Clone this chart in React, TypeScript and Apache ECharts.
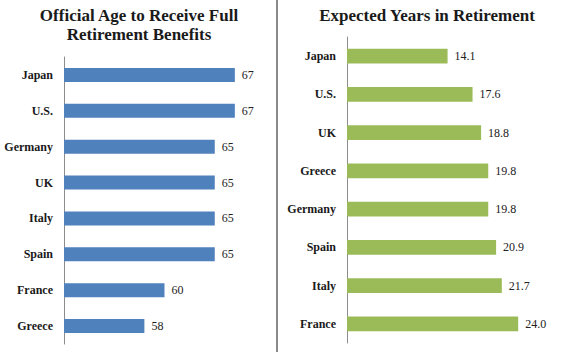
import React, { useEffect, useRef } from "react";
import * as echarts from "echarts";

const leftCategories = ["Japan", "U.S.", "Germany", "UK", "Italy", "Spain", "France", "Greece"];
const leftValues = [67, 67, 65, 65, 65, 65, 60, 58];
const rightCategories = ["Japan", "U.S.", "UK", "Greece", "Germany", "Spain", "Italy", "France"];
const rightValues = [14.1, 17.6, 18.8, 19.8, 19.8, 20.9, 21.7, 24.0];
const leftTitle = "Official Age to Receive Full\nRetirement Benefits";
const rightTitle = "Expected Years in Retirement";

const FONT = "Liberation Serif";

export default function App() {
  const ref = useRef<HTMLDivElement>(null);
  useEffect(() => {
    if (!ref.current) return;
    const chart = echarts.init(ref.current, null, { renderer: "svg" });
    const catLabel = {
      fontFamily: FONT,
      fontWeight: "bold" as const,
      fontSize: 12,
      color: "#1a1a1a",
      margin: 11,
    };
    chart.setOption({
      animation: false,
      backgroundColor: "#ffffff",
      title: [
        {
          text: leftTitle,
          left: 134,
          top: 1,
          textAlign: "center",
          textStyle: { fontFamily: FONT, fontWeight: "bold", fontSize: 17, lineHeight: 19, color: "#1a1a1a" },
        },
        {
          text: rightTitle,
          left: 422,
          top: 2,
          textAlign: "center",
          textStyle: { fontFamily: FONT, fontWeight: "bold", fontSize: 17, color: "#1a1a1a" },
        },
      ],
      grid: [
        { left: 64, right: 305, top: 57, bottom: 8 },
        { left: 347, right: 9, top: 37, bottom: 9 },
      ],
      xAxis: [
        { type: "value", gridIndex: 0, min: 50, max: 70, show: false },
        { type: "value", gridIndex: 1, min: 0, max: 30, show: false },
      ],
      yAxis: [
        {
          type: "category",
          gridIndex: 0,
          data: leftCategories,
          inverse: true,
          axisLine: { show: true, lineStyle: { color: "#8c8c8c", width: 1 } },
          axisTick: { show: false },
          axisLabel: catLabel,
        },
        {
          type: "category",
          gridIndex: 1,
          data: rightCategories,
          inverse: true,
          axisLine: { show: true, lineStyle: { color: "#8c8c8c", width: 1 } },
          axisTick: { show: false },
          axisLabel: catLabel,
        },
      ],
      series: [
        {
          type: "bar",
          xAxisIndex: 0,
          yAxisIndex: 0,
          data: leftValues,
          barWidth: "39%",
          itemStyle: { color: "#4f81bd" },
          label: {
            show: true,
            position: "right",
            distance: 7,
            fontFamily: FONT,
            fontSize: 12,
            color: "#222",
          },
        },
        {
          type: "bar",
          xAxisIndex: 1,
          yAxisIndex: 1,
          data: rightValues,
          barWidth: "39%",
          itemStyle: { color: "#9bbb59" },
          label: {
            show: true,
            position: "right",
            distance: 7,
            fontFamily: FONT,
            fontSize: 12,
            color: "#222",
            formatter: (p: any) => Number(p.value).toFixed(1),
          },
        },
      ],
      graphic: [
        {
          type: "line",
          shape: { x1: 277, y1: 0, x2: 277, y2: 352 },
          style: { stroke: "#8a8a8a", lineWidth: 2 },
        },
      ],
    });
    return () => chart.dispose();
  }, []);
  return <div ref={ref} style={{ width: 570, height: 352, position: "absolute", left: 0, top: 0 }} />;
}
